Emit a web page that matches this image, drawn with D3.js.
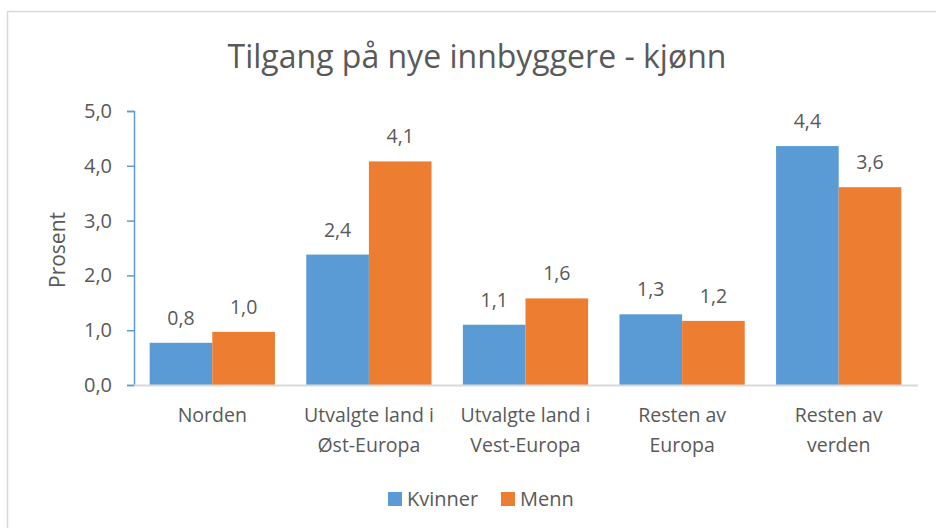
<!DOCTYPE html>
<html>
<head>
<meta charset="utf-8">
<script src="https://cdn.jsdelivr.net/npm/d3@7"></script>
<style>
  body { margin: 0; background: #fff; }
  text { font-family: "Open Sans", sans-serif; fill: #595959; }
</style>
</head>
<body>
<div id="chart"></div>
<script>
// data
var categories = [["Norden"], ["Utvalgte land i", "Øst-Europa"], ["Utvalgte land i", "Vest-Europa"], ["Resten av", "Europa"], ["Resten av", "verden"]];
var seriesNames = ["Kvinner", "Menn"];
var kvinner = [0.77, 2.38, 1.1, 1.29, 4.36];
var menn = [0.97, 4.08, 1.58, 1.17, 3.61];
var yTicks = [0, 1, 2, 3, 4, 5];
var colors = ["#5B9BD5", "#ED7D31"];

var svg = d3.select("#chart")
    .append("svg")
    .attr("width", 936)
    .attr("height", 528);

// outer border
svg.append("rect")
    .attr("x", 7.5).attr("y", 11.5)
    .attr("width", 1000).attr("height", 600)
    .attr("fill", "none")
    .attr("stroke", "#D9D9D9")
    .attr("stroke-width", 1.5);

var plotL = 134, plotR = 917, plotT = 111, plotB = 385;

var x = d3.scaleBand()
    .domain(d3.range(categories.length))
    .range([plotL, plotR])
    .paddingInner(0.2)
    .paddingOuter(0.1);

var xs = d3.scaleBand()
    .domain(seriesNames)
    .range([0, x.bandwidth()]);

var y = d3.scaleLinear()
    .domain([0, 5])
    .range([plotB, plotT]);

var fmt = function(d) { return d3.format(".1f")(d).replace(".", ","); };

// title
svg.append("text")
    .attr("x", 477).attr("y", 68)
    .attr("text-anchor", "middle")
    .style("font-size", "32px")
    .text("Tilgang på nye innbyggere - kjønn");

// y axis
var yAxis = svg.append("g")
    .attr("transform", "translate(" + plotL + ",0)")
    .call(d3.axisLeft(y).tickValues(yTicks).tickSize(7).tickPadding(15).tickFormat(fmt));
yAxis.select(".domain").attr("stroke", "#5B9BD5").attr("stroke-width", 1.5);
yAxis.selectAll(".tick line").attr("stroke", "#5B9BD5").attr("stroke-width", 1.5);
yAxis.selectAll(".tick text")
    .style("font-size", "20px")
    .style("font-family", "Open Sans")
    .attr("fill", "#595959");

svg.append("text")
    .attr("transform", "translate(65,250) rotate(-90)")
    .attr("text-anchor", "middle")
    .style("font-size", "21px")
    .text("Prosent");

// bars
var data = [kvinner, menn];
data.forEach(function(vals, s) {
    svg.append("g").selectAll("rect")
        .data(vals)
        .enter().append("rect")
        .attr("x", function(d, i) { return x(i) + xs(seriesNames[s]); })
        .attr("y", function(d) { return y(d); })
        .attr("width", xs.bandwidth())
        .attr("height", function(d) { return y(0) - y(d); })
        .attr("fill", colors[s]);

    svg.append("g").selectAll("text")
        .data(vals)
        .enter().append("text")
        .attr("x", function(d, i) { return x(i) + xs(seriesNames[s]) + xs.bandwidth() / 2; })
        .attr("y", function(d) { return y(d) - 18; })
        .attr("text-anchor", "middle")
        .style("font-size", "19.5px")
        .text(fmt);
});

// x axis line
svg.append("line")
    .attr("x1", plotL).attr("x2", plotR + 1)
    .attr("y1", plotB + 0.5).attr("y2", plotB + 0.5)
    .attr("stroke", "#D9D9D9")
    .attr("stroke-width", 2);

// category labels
categories.forEach(function(lines, i) {
    var t = svg.append("text")
        .attr("text-anchor", "middle")
        .style("font-size", "19.5px");
    lines.forEach(function(l, j) {
        t.append("tspan")
            .attr("x", x(i) + x.bandwidth() / 2)
            .attr("y", 422 + j * 30)
            .text(l);
    });
});

// legend
var legendX = [388, 501];
seriesNames.forEach(function(n, s) {
    svg.append("rect")
        .attr("x", legendX[s]).attr("y", 492)
        .attr("width", 14).attr("height", 14)
        .attr("fill", colors[s]);
    svg.append("text")
        .attr("x", legendX[s] + 19).attr("y", 506)
        .style("font-size", "20px")
        .text(n);
});
</script>
</body>
</html>
